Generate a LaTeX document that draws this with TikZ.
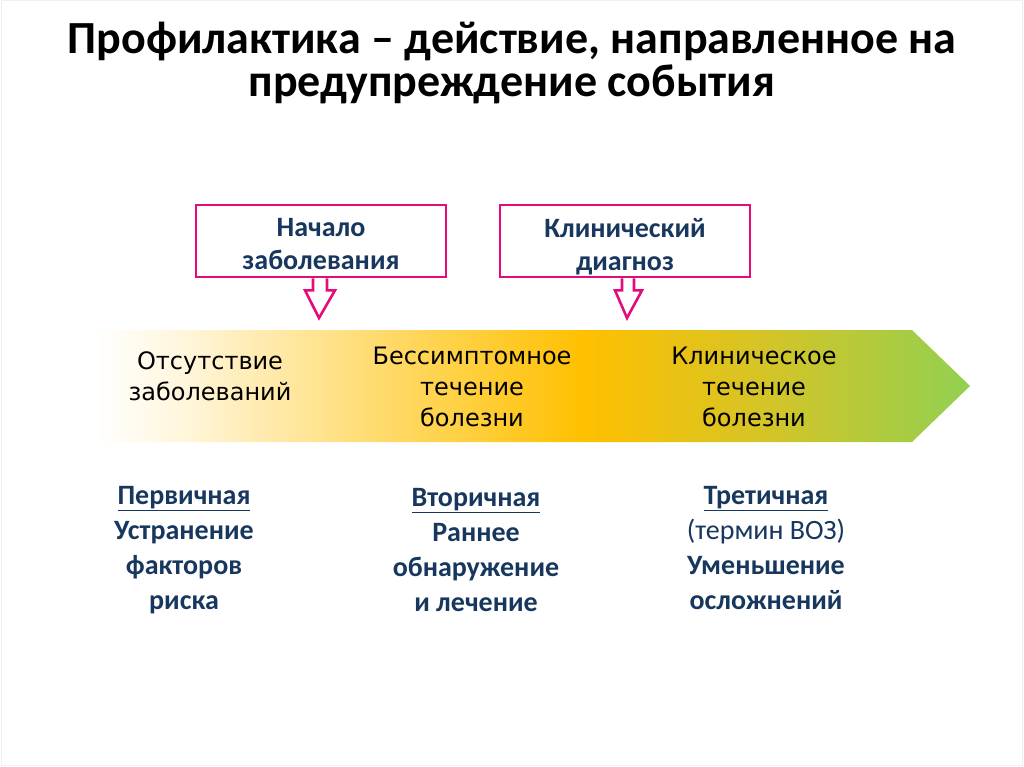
\documentclass[tikz,border=0pt]{standalone}
\usepackage{fontspec}
\setmainfont{Carlito}
\newfontfamily\stagefont{DejaVu Sans}
\usetikzlibrary{calc}
\definecolor{mag}{RGB}{228,12,122}
\definecolor{navy}{RGB}{23,55,94}
\definecolor{c0}{RGB}{255,255,255}
\definecolor{c1}{RGB}{255,246,220}
\definecolor{c2}{RGB}{255,217,102}
\definecolor{c3}{RGB}{255,192,0}
\definecolor{c4}{RGB}{214,196,38}
\definecolor{c5}{RGB}{146,208,80}
\pgfdeclarehorizontalshading{flow}{100bp}{color(0bp)=(c0); color(25bp)=(c0); color(30bp)=(c1); color(42bp)=(c2); color(53bp)=(c3); color(63bp)=(c4); color(75bp)=(c5); color(100bp)=(c5)}
\newcommand{\ul}[1]{\underline{#1}}
\newcommand{\nodesc}[1]{\raisebox{0pt}[\height][0pt]{#1}}
\tikzset{
  title/.style={font=\fontsize{46}{43}\selectfont\bfseries, align=center, text=black},
  callbox/.style={draw=mag, line width=2.6pt, fill=white, minimum width=250pt, minimum height=72pt, inner sep=0pt},
  calltext/.style={align=center, font=\fontsize{28}{33}\selectfont\bfseries, text=navy, inner sep=0pt},
  stage/.style={align=center, font=\stagefont\fontsize{24}{31}\selectfont, text=black},
  prev/.style={align=center, font=\fontsize{28}{35}\selectfont\bfseries, text=navy},
  callarrow/.style={draw=mag, line width=2.6pt, fill=white, line join=miter}
}
\begin{document}
\begin{tikzpicture}[x=1pt,y=-1pt]
\useasboundingbox (0,0) rectangle (1024,767);
\draw[black!6, line width=1pt] (1,1) rectangle (1022,765);
% title
\node[title] (t) at (512,63) {Профилактика – действие, направленное на\\предупреждение события};
% big gradient arrow
\path[shading=flow] (95,330) -- (912,330) -- (970,386) -- (912,442) -- (95,442) -- cycle;
% callouts
\node[callbox] (b1) at (321,241) {};
\node[calltext] (b1t) at (321,244) {Начало\\заболевания};
\node[callbox] (b2) at (625,241) {};
\node[calltext] (b2t) at (625,244) {Клинический\\\nodesc{диагноз}};
\coordinate (p1) at (319,318);
\coordinate (p2) at (627,318);
\draw[callarrow] ($(b1.south)+(-8,0)$) -- ++(0,12) -- ++(-8,0) -- (p1) -- ($(b1.south)+(14,12)$) -- ++(-8,0) -- ($(b1.south)+(6,0)$);
\draw[callarrow] ($(b2.south)+(-3,0)$) -- ++(0,12) -- ++(-7,0) -- (p2) -- ($(b2.south)+(17,12)$) -- ++(-8,0) -- ($(b2.south)+(9,0)$);
% stage labels
\node[stage] (s1) at (210,376) {Отсутствие\\заболеваний};
\node[stage] (s2) at (472,387) {Бессимптомное\\течение\\болезни};
\node[stage] (s3) at (754,387) {Клиническое\\течение\\болезни};
% prevention types
\node[prev] (v1) at (184,550) {\ul{Первичная}\\Устранение\\факторов\\риска};
\node[prev] (v2) at (476,550) {\ul{Вторичная}\\Раннее\\обнаружение\\и лечение};
\node[prev] (v3) at (766,548) {\ul{Третичная}\\{\mdseries (термин ВОЗ)}\\Уменьшение\\осложнений};
\end{tikzpicture}
\end{document}
